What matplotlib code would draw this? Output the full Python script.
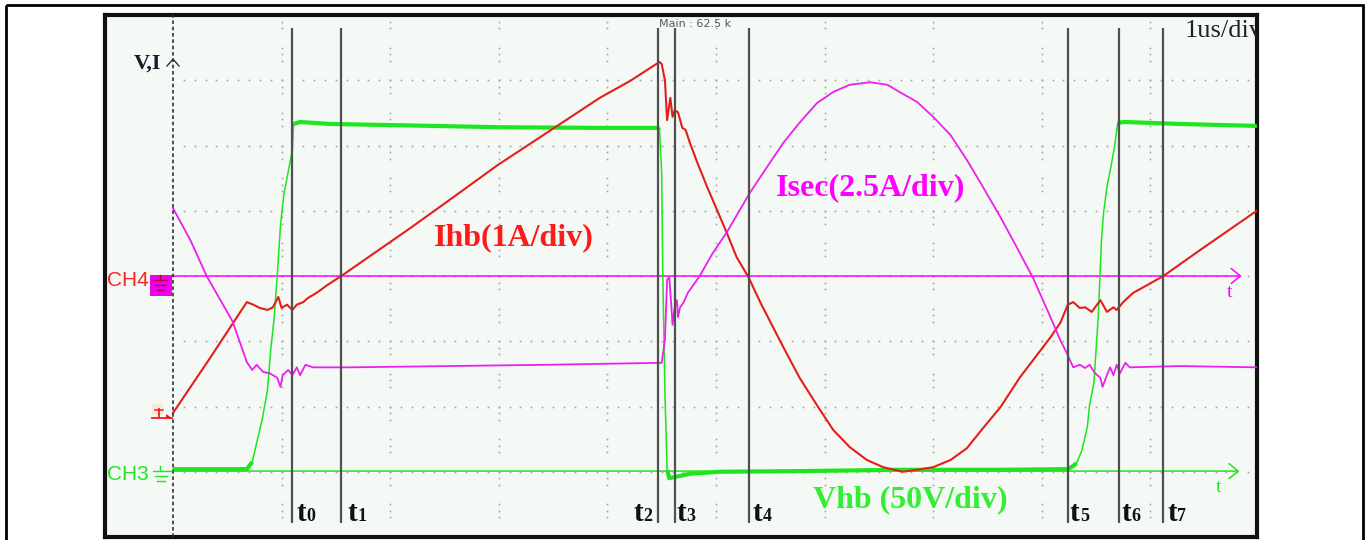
import numpy as np
import matplotlib.pyplot as plt
from matplotlib import transforms
from matplotlib.patches import Rectangle, Polygon

# tiempo en us (1 us/div), amplitud en divisiones de pantalla
vhb_t = [0, 0.68, 0.73, 0.77, 0.82, 0.87, 0.90, 0.93, 0.96, 0.99, 1.02, 1.06, 1.10, 1.11,
         1.17, 1.45, 2.09, 3.01, 3.93, 4.46, 4.48, 4.50, 4.51, 4.53, 4.55, 4.57, 4.62, 4.76,
         5.04, 5.77, 6.69, 7.62, 8.24, 8.29, 8.32, 8.37, 8.42, 8.44, 8.48, 8.52, 8.55, 8.57,
         8.60, 8.64, 8.67, 8.70, 8.77, 9.27, 9.98]
vhb_v = [-2.96, -2.96, -2.85, -2.56, -2.21, -1.75, -1.13, -0.67, 0.00, 0.78, 1.24, 1.59, 1.93, 2.33,
         2.36, 2.33, 2.31, 2.28, 2.27, 2.27, 2.24, 1.58, 0.05, -1.79, -2.97, -3.10, -3.08, -3.03,
         -3.00, -2.99, -2.97, -2.97, -2.96, -2.91, -2.87, -2.67, -2.31, -1.98, -1.64, -0.63, 0.55, 0.98,
         1.36, 1.70, 1.98, 2.35, 2.36, 2.33, 2.30]

ihb_t = [0, 0.34, 0.68, 0.74, 0.80, 0.87, 0.92, 0.97, 1.00, 1.05, 1.10, 1.14, 1.20, 1.24, 1.33,
         1.42, 1.55, 2.19, 2.60, 2.99, 3.52, 3.93, 4.21, 4.48, 4.50, 4.53, 4.55, 4.58, 4.60, 4.62,
         4.65, 4.69, 4.72, 4.76, 4.83, 4.92, 5.01, 5.10, 5.19, 5.30, 5.41, 5.62, 5.77, 5.93, 6.08,
         6.23, 6.39, 6.54, 6.72, 6.85, 7.00, 7.16, 7.31, 7.46, 7.62, 7.80, 7.92, 8.08, 8.17, 8.24,
         8.29, 8.35, 8.40, 8.46, 8.54, 8.60, 8.66, 8.69, 8.75, 8.84, 8.97, 9.12, 9.46, 9.98]
ihb_v = [-2.10, -1.26, -0.40, -0.44, -0.49, -0.52, -0.48, -0.32, -0.49, -0.44, -0.52, -0.44, -0.40, -0.34, -0.25,
         -0.14, 0.00, 0.74, 1.23, 1.70, 2.28, 2.73, 2.99, 3.28, 3.25, 3.00, 2.39, 2.73, 2.44, 2.54,
         2.51, 2.27, 2.24, 2.04, 1.73, 1.36, 1.01, 0.66, 0.29, -0.02, -0.41, -1.09, -1.56, -1.98, -2.36,
         -2.62, -2.82, -2.93, -3.00, -2.97, -2.93, -2.82, -2.64, -2.33, -2.01, -1.55, -1.29, -0.94, -0.72, -0.44,
         -0.40, -0.49, -0.48, -0.55, -0.37, -0.55, -0.48, -0.52, -0.40, -0.26, -0.14, 0.00, 0.40, 1.00]

isec_t = [0, 0.16, 0.31, 0.55, 0.68, 0.73, 0.77, 0.83, 0.89, 0.96, 0.99, 1.01, 1.06, 1.10, 1.14,
          1.17, 1.22, 1.29, 1.63, 2.55, 3.47, 4.50, 4.53, 4.55, 4.57, 4.59, 4.60, 4.62, 4.64, 4.65,
          4.67, 4.70, 4.74, 4.85, 4.97, 5.10, 5.31, 5.47, 5.62, 5.77, 5.93, 6.08, 6.23, 6.42, 6.58,
          6.69, 6.85, 7.00, 7.16, 7.31, 7.46, 7.62, 7.77, 7.92, 8.08, 8.17, 8.23, 8.29, 8.35, 8.40,
          8.44, 8.49, 8.54, 8.56, 8.60, 8.63, 8.66, 8.69, 8.72, 8.77, 8.81, 9.27, 9.98]
isec_v = [1.04, 0.55, 0.00, -0.70, -1.32, -1.44, -1.36, -1.47, -1.49, -1.56, -1.70, -1.52, -1.44, -1.52, -1.40,
          -1.52, -1.36, -1.40, -1.40, -1.38, -1.36, -1.33, -0.98, -0.06, -0.02, -0.48, -0.75, -0.48, -0.37, -0.63,
          -0.48, -0.41, -0.26, 0.00, 0.35, 0.67, 1.27, 1.67, 2.04, 2.35, 2.65, 2.82, 2.93, 2.97, 2.93,
          2.82, 2.67, 2.44, 2.16, 1.78, 1.36, 0.90, 0.44, -0.03, -0.63, -0.98, -1.18, -1.40, -1.36, -1.41,
          -1.36, -1.49, -1.56, -1.70, -1.52, -1.40, -1.52, -1.36, -1.49, -1.33, -1.40, -1.38, -1.40]

cursor_t = [1.10, 1.55, 4.47, 4.62, 5.30, 8.24, 8.71, 9.12]
cursor_num = ['0', '1', '2', '3', '4', '5', '6', '7']
label_dx = [4, 6, -25, 2, 4, 2, 3, 4]   # px desde el cursor

ch4_nivel = 0.0
ch3_nivel = -2.99

c_verde = '#1ee61e'
c_rojo = '#e41e1a'
c_mag = '#ee1fee'
c_rejilla = '#a4a4a4'
serif = 'Liberation Serif'

fig = plt.figure(figsize=(13.68, 5.4), dpi=100)
fig.patch.set_facecolor('white')

# pantalla del osciloscopio
ax = fig.add_axes([105 / 1368, 3 / 540, 1152 / 1368, 522 / 540])
ax.set_facecolor('#f5f9f5')
ax.set_xlim(-0.626, 9.982)
ax.set_ylim(-4.0, 4.0)
ax.set_xticks([])
ax.set_yticks([])
for s in ax.spines.values():
    s.set_linewidth(3)
    s.set_color('#111111')

# rejilla punteada
gx = np.arange(1, 100) * 0.1
for gv in range(-3, 4):
    ax.plot(gx, np.full_like(gx, gv), ls='none', marker='s', ms=1.2, mew=0, color=c_rejilla, zorder=1)
k = np.arange(-40, 41)
gy = k[np.isin(k % 10, [0, 3, 4, 5, 8, 9])] * 0.1
for gt in range(1, 10):
    ax.plot(np.full_like(gy, gt), gy, ls='none', marker='s', ms=1.2, mew=0, color=c_rejilla, zorder=1)

# niveles de referencia CH4 / CH3 con flecha
ax.annotate('', xy=(9.84, ch4_nivel), xytext=(-0.01, ch4_nivel),
            arrowprops=dict(arrowstyle='->,head_length=0.55,head_width=0.45', color='#ff00ff',
                            lw=1.1, mutation_scale=12, shrinkA=0, shrinkB=0), zorder=2)
ax.annotate('', xy=(9.82, ch3_nivel), xytext=(-0.01, ch3_nivel),
            arrowprops=dict(arrowstyle='->,head_length=0.55,head_width=0.45', color=c_verde,
                            lw=1.1, mutation_scale=12, shrinkA=0, shrinkB=0), zorder=2)
ax.text(9.70, -0.26, 't', color='#ff00ff', fontsize=14, family=serif, ha='left', va='center')
ax.text(9.60, -3.24, 't', color=c_verde, fontsize=14, family=serif, ha='left', va='center')

# trazas
vhb_v = np.array(vhb_v)
ax.plot(vhb_t, vhb_v, color=c_verde, lw=1.1, zorder=3)
plano = np.where((vhb_v > 2.2) | (vhb_v < -2.8), vhb_v, np.nan)
ax.plot(vhb_t, plano, color=c_verde, lw=3.0, zorder=3, solid_capstyle='butt')
ax.plot(ihb_t, ihb_v, color=c_rojo, lw=1.5, zorder=3)
ax.plot(isec_t, isec_v, color=c_mag, lw=1.3, zorder=3)

# disparo y cursores
ax.axvline(0, color='#333333', lw=1.2, ls=(0, (2.2, 1.6)), zorder=4)
ax.vlines(cursor_t, -3.79, 3.80, color='#505050', lw=1.6, zorder=4)
for tc, n, dx in zip(cursor_t, cursor_num, label_dx):
    tr = transforms.offset_copy(ax.transData, fig=fig, x=dx, y=0, units='dots')
    ax.text(tc, -3.755, 't', transform=tr, fontsize=21, fontweight='bold', family=serif,
            color='#111111', ha='left', va='baseline', zorder=5)
    tr2 = transforms.offset_copy(ax.transData, fig=fig, x=dx + 10, y=0, units='dots')
    ax.text(tc, -3.755, n, transform=tr2, fontsize=13, fontweight='bold', family=serif,
            color='#111111', ha='left', va='baseline', zorder=5)

# etiquetas de las señales
ax.text(3.14, 0.58, 'Ihb(1A/div)', color='#ff1a1a', fontsize=23, fontweight='bold',
        family=serif, ha='center', va='center', zorder=5)
ax.text(6.42, 1.36, 'Isec(2.5A/div)', color='#ff00ff', fontsize=23, fontweight='bold',
        family=serif, ha='center', va='center', zorder=5)
ax.text(6.79, -3.43, 'Vhb (50V/div)', color='#33ee33', fontsize=23, fontweight='bold',
        family=serif, ha='center', va='center', zorder=5)
ax.text(9.32, 3.76, '1us/div', color='#222222', fontsize=19, family=serif,
        ha='left', va='center', clip_on=True, zorder=5)
ax.text(4.48, 3.86, 'Main : 62.5 k', color='#5a5a5a', fontsize=8, family='DejaVu Sans',
        ha='left', va='center', zorder=5)

# capa de adornos en pixeles
deco = fig.add_axes([0, 0, 1, 1])
deco.set_xlim(0, 1368)
deco.set_ylim(540, 0)
deco.axis('off')
deco.add_patch(Rectangle((6, 5), 1357, 545, fill=False, lw=2, ec='black'))

deco.text(147, 64, 'V,I', fontsize=16, fontweight='bold', family=serif, color='#1a1a30',
          ha='center', va='center')
deco.plot([167, 173, 179], [66, 59, 66], color='#333333', lw=1.0)

# CH4
deco.add_patch(Rectangle((150, 275), 22, 21, color='#ee00ee', lw=0))
deco.text(107, 281, 'CH4', fontsize=15, family='Liberation Sans', color='#ff2020',
          ha='left', va='center')
deco.plot([160, 160], [275, 280], color='#b0003a', lw=1)
for yb, x0, x1 in [(280, 153, 167), (285, 155, 165), (290, 157, 163)]:
    deco.plot([x0, x1], [yb, yb], color='#b0003a', lw=1)

# marcador CH1
deco.add_patch(Rectangle((152, 404), 11, 11, color='#f6e9d6', lw=0))
deco.plot([152, 172], [418, 418], color='#ee2020', lw=1.3)
deco.plot([159, 159], [409, 418], color='#ee2020', lw=1.3)
deco.plot([155, 163], [410, 410], color='#ee2020', lw=1.1)
deco.add_patch(Polygon([[166, 414], [172, 418], [166, 419]], closed=True, color='#ee2020', lw=0))

# CH3
deco.text(107, 474, 'CH3', fontsize=15, family='Liberation Sans', color=c_verde,
          ha='left', va='center')
deco.plot([160, 160], [466, 471], color=c_verde, lw=1)
for yb, x0, x1 in [(471, 153, 172), (476, 155, 167), (481, 157, 165)]:
    deco.plot([x0, x1], [yb, yb], color=c_verde, lw=1)

fig.savefig('out.png', dpi=100, facecolor='white')
